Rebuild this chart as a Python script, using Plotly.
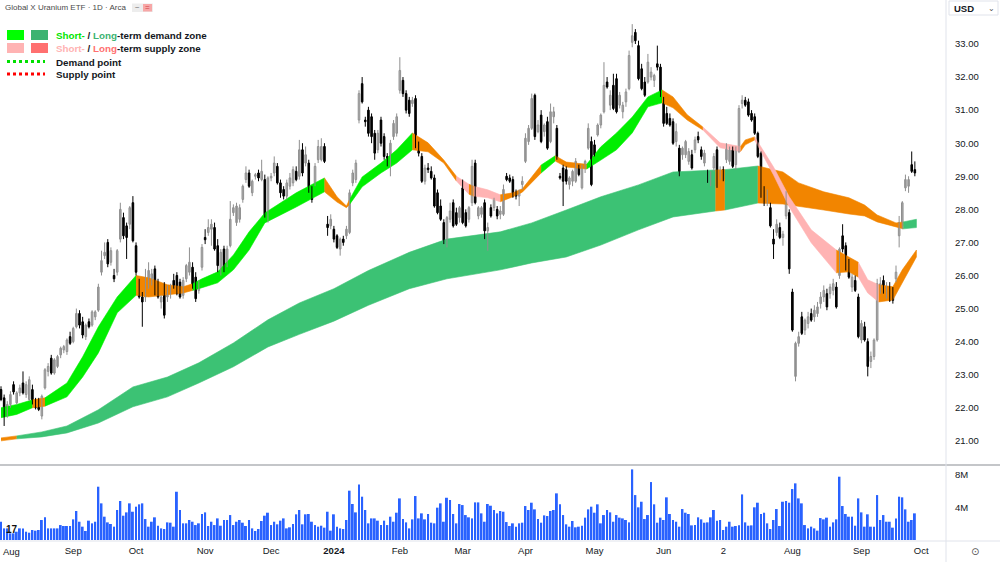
import plotly.graph_objects as go

# ---------------- data ----------------
opens = [22.55,22.3,21.8,22.1,22.7,22.15,22.45,22.75,22.4,22.25,22.55,22.2,22.2,21.75,22.6,23.1,23.5,23.05,23.25,23.6,
23.75,23.7,24.15,24.0,24.45,24.85,24.6,24.15,24.6,24.5,24.75,24.95,26.1,26.6,27.0,26.4,26.0,26.1,27.1,27.75,
27.5,27.55,28.2,26.9,25.7,25.35,25.35,25.7,25.9,26.2,25.75,25.2,25.65,25.35,25.5,25.85,26.0,25.8,25.4,25.9,
26.1,26.25,25.95,25.55,26.25,27.15,27.3,27.4,27.45,26.9,26.2,26.8,26.35,26.9,27.9,27.6,27.7,28.3,28.9,29.1,
28.5,29.0,29.1,28.9,28.9,27.8,28.95,29.1,29.3,28.8,28.6,28.4,28.7,28.8,29.15,29.0,29.8,29.4,29.4,28.6,
28.8,29.5,29.5,29.9,27.55,27.5,27.4,27.2,26.8,27.1,27.2,27.3,28.8,28.9,30.7,31.8,30.7,31.0,30.8,30.3,
29.8,30.7,30.2,29.6,29.5,30.2,30.3,31.6,31.9,31.5,31.3,31.2,31.35,29.95,29.6,28.85,29.25,29.15,28.95,28.5,
28.1,27.6,27.0,27.7,28.2,27.9,27.75,28.65,27.9,27.7,28.2,29.4,27.8,27.85,28.2,27.35,28.05,28.05,28.0,27.85,
27.85,29.0,28.95,28.9,28.45,28.4,28.75,29.45,30.05,30.45,31.45,30.35,30.85,30.35,30.65,30.05,30.8,30.45,29.0,29.25,
29.2,28.75,28.85,28.85,29.25,28.65,29.25,29.85,30.05,29.95,30.25,30.55,30.95,31.85,31.15,31.75,31.95,31.15,30.95,31.25,
31.65,33.05,33.35,32.95,32.25,31.85,31.85,32.0,31.9,32.4,32.3,31.3,30.9,30.75,30.65,30.05,29.85,29.65,29.65,29.45,
29.65,29.8,30.2,29.8,29.4,29.1,28.75,29.25,29.8,29.0,29.2,29.5,29.45,29.8,29.35,29.75,31.2,31.3,31.25,30.9,
30.8,30.3,29.7,28.6,28.3,28.05,27.1,27.3,27.45,27.15,27.8,27.9,25.5,22.95,23.95,24.75,24.35,24.55,24.85,24.75,
24.85,25.15,25.35,25.45,25.45,25.55,25.65,26.0,27.2,26.9,26.4,25.65,25.85,25.35,24.05,24.45,24.0,23.4,23.55,24.05,
25.55,25.85,25.4,25.65,25.55,25.9,27.2,27.5,28.65,28.7,29.35,29.2]
highs = [22.65,22.4,22.2,22.5,22.8,22.5,22.7,23.1,22.8,22.95,22.7,22.3,22.3,22.4,23.2,23.35,23.6,23.5,23.6,23.85,
23.9,24.1,24.3,24.45,25.0,24.95,24.75,24.55,24.7,24.95,24.95,25.75,26.75,27.0,27.1,26.85,26.2,26.8,28.2,27.9,
27.6,28.1,28.4,27.0,25.9,25.5,26.2,26.4,26.2,26.3,25.9,25.4,25.8,25.7,25.75,26.05,26.1,25.9,25.95,26.35,
26.85,26.4,26.1,25.85,26.95,27.4,27.7,27.7,27.6,27.1,26.8,26.9,26.9,28.25,28.15,28.2,28.15,28.75,29.3,29.2,
28.9,29.1,29.2,29.5,29.05,29.0,29.1,29.6,29.4,28.9,28.7,28.9,29.1,29.3,29.3,30.1,30.0,29.9,29.5,28.7,
29.4,30.1,30.15,30.0,27.8,27.85,27.5,27.25,27.15,27.2,27.5,28.6,29.2,29.5,31.6,32.0,30.8,31.1,30.9,30.4,
30.4,30.8,30.3,29.7,30.1,30.7,30.9,32.6,32.0,31.6,31.4,31.4,31.45,30.05,29.7,29.35,29.4,29.3,29.05,28.6,
28.3,27.7,27.8,28.2,28.3,28.05,28.1,28.9,28.0,28.1,29.5,29.5,28.1,28.1,28.3,27.6,28.15,28.35,28.1,28.1,
28.75,29.1,29.05,29.0,28.6,28.6,29.0,30.3,30.55,31.5,31.5,30.7,31.0,30.6,30.8,31.2,31.1,30.55,29.1,29.35,
29.3,29.0,29.2,29.55,29.35,29.35,29.5,30.6,30.2,30.1,30.6,30.9,32.45,32.0,31.6,32.1,32.1,31.55,31.25,31.65,
32.8,33.6,33.45,33.1,32.4,32.0,32.7,32.3,32.1,32.95,32.4,31.4,31.1,30.9,30.75,30.6,29.95,29.9,30.1,29.85,
29.8,30.2,30.35,29.9,29.8,29.2,29.15,29.7,29.9,29.3,29.3,30.0,29.9,29.9,29.9,31.15,31.45,31.4,31.35,31.0,
30.9,30.35,29.75,28.7,28.6,28.2,27.4,27.7,27.6,27.35,28.55,28.0,25.6,24.0,24.3,24.9,24.7,24.9,25.0,25.1,
25.2,25.5,25.7,25.6,25.75,25.9,25.8,26.85,27.55,27.0,26.5,26.05,26.0,25.45,24.65,24.6,24.1,23.7,24.1,25.9,
25.95,26.0,25.8,25.8,25.65,26.3,27.8,28.25,29.05,29.0,29.75,29.45]
lows = [22.2,21.45,21.7,22.0,22.4,22.1,22.35,22.4,22.3,22.2,22.1,21.95,21.9,21.65,22.55,22.95,23.0,23.0,23.2,23.5,
23.65,23.6,23.9,23.95,24.4,24.4,24.1,24.05,24.4,24.45,24.65,24.9,26.0,26.5,26.25,26.3,25.8,26.0,27.0,27.1,
26.5,27.4,27.0,26.0,25.3,24.45,25.2,25.6,25.7,25.4,25.3,25.0,24.7,25.2,25.3,25.6,25.4,25.3,25.3,25.8,
26.0,25.6,25.2,25.45,26.15,26.95,27.2,26.9,26.75,26.1,26.0,26.1,26.25,26.85,27.8,27.5,27.6,28.2,28.8,28.65,
28.4,28.9,28.85,28.85,27.75,27.6,28.85,29.0,28.75,28.35,28.3,28.3,28.6,28.7,28.85,28.9,29.0,29.3,28.5,28.2,
28.7,29.4,29.45,29.4,27.2,27.4,27.0,26.8,26.6,26.9,27.1,27.25,28.7,28.8,30.6,31.2,30.5,30.2,30.0,29.5,
29.7,29.9,29.5,29.3,29.0,30.1,30.2,31.5,31.4,30.9,30.8,31.1,29.85,29.6,28.8,28.75,29.1,28.9,28.05,27.85,
27.65,26.95,26.85,27.6,27.45,27.5,27.6,27.55,27.45,27.6,28.1,28.15,27.7,27.75,27.1,26.75,27.75,27.95,27.7,27.7,
27.8,28.85,28.8,28.35,28.3,28.1,28.6,29.4,29.95,30.4,30.1,30.3,30.0,30.2,29.8,30.0,30.6,29.5,28.9,28.1,
28.75,28.6,28.7,28.8,29.0,28.6,29.1,29.8,28.7,29.6,30.2,30.45,30.9,31.65,31.0,31.0,30.9,31.05,30.75,31.1,
31.6,32.9,33.0,31.9,31.6,31.4,31.8,31.9,31.7,32.2,31.4,30.5,30.55,30.5,29.95,29.9,29.0,29.5,29.55,29.35,
29.2,29.7,30.0,29.5,29.3,28.8,28.7,29.15,28.65,28.9,28.85,29.4,29.35,29.25,29.2,29.7,31.05,31.1,30.8,30.65,
30.25,29.55,28.35,28.1,28.1,27.45,26.5,27.2,27.1,26.9,27.7,26.05,24.3,22.8,23.85,24.2,24.2,24.4,24.6,24.6,
24.75,25.0,25.2,24.95,25.3,25.4,25.0,25.9,26.7,26.15,25.9,25.5,25.5,24.1,23.95,24.0,22.95,23.2,23.45,24.0,
25.45,25.45,25.3,25.2,25.15,25.8,26.85,27.4,28.55,28.5,29.1,29.0]
closes = [22.25,21.8,22.1,22.4,22.48,22.45,22.6,22.45,22.7,22.85,22.15,22.0,21.95,22.35,23.15,23.25,23.05,23.45,23.55,23.8,
23.85,24.05,23.95,24.4,24.85,24.5,24.2,24.5,24.45,24.9,24.9,25.65,26.45,26.7,26.35,26.75,25.9,26.75,28.0,27.2,
27.15,28.05,27.05,26.1,25.35,25.2,25.85,26.15,26.05,25.5,25.35,25.35,24.8,25.65,25.6,25.65,25.45,25.35,25.85,26.3,
26.4,25.65,25.3,25.8,26.85,27.08,27.45,27.55,26.8,26.3,26.7,26.2,26.8,27.7,28.05,28.1,28.05,28.7,29.1,28.7,
28.85,29.05,28.95,29.15,27.8,28.95,29.0,29.4,28.8,28.5,28.4,28.8,28.95,29.2,28.9,29.8,29.1,29.65,28.6,28.3,
29.3,29.9,29.9,29.45,27.45,27.7,27.1,26.85,27.1,27.0,27.4,28.5,29.1,29.4,31.5,31.25,30.65,30.3,30.2,29.7,
30.3,30.0,29.6,29.5,30.0,30.6,30.8,32.2,31.5,31.0,30.9,31.3,29.95,29.7,28.85,29.25,29.2,28.95,28.1,27.9,
27.7,27.0,27.75,27.95,27.5,27.55,28.05,27.6,27.5,28.05,29.3,28.2,28.05,28.05,27.35,27.45,27.8,28.3,27.8,27.95,
28.6,28.9,28.85,28.4,28.4,28.55,28.85,30.15,30.45,31.35,30.2,30.55,30.05,30.55,29.85,30.95,30.95,29.55,28.95,28.85,
28.85,28.95,29.15,29.45,29.05,29.25,29.45,30.45,28.75,29.65,30.55,30.85,31.75,31.7,31.45,31.05,30.95,31.45,31.15,31.55,
32.65,33.25,33.1,31.95,31.65,31.45,32.45,32.15,32.05,32.3,31.45,30.6,30.6,30.55,30.0,30.35,29.05,29.85,30.05,29.75,
29.25,30.1,30.1,29.6,29.7,28.85,29.1,29.6,28.7,29.15,28.9,29.9,29.8,29.3,29.8,31.05,31.3,31.15,30.85,30.7,
30.3,29.6,28.4,28.2,28.4,27.5,26.95,27.55,27.15,27.25,28.3,26.2,24.35,23.95,24.15,24.25,24.65,24.75,24.65,24.95,
25.05,25.35,25.55,25.05,25.65,25.75,25.05,26.8,26.8,26.2,25.95,25.95,25.55,24.15,24.55,24.05,23.25,23.55,24.05,25.75,
25.75,25.55,25.65,25.25,25.25,26.1,27.6,28.2,28.9,28.9,29.15,29.1]
volumes_m = [2.25,1.43,1.43,0.82,0.82,1.02,1.43,1.43,1.02,0.9,1.23,1.15,1.23,2.46,2.79,1.43,1.43,1.43,1.43,1.84,
1.72,1.72,1.72,2.54,3.57,2.25,1.64,1.11,2.38,2.05,2.25,6.56,4.51,2.87,2.17,1.97,1.64,3.69,4.8,2.99,
3.4,4.51,3.48,4.1,4.39,4.51,2.58,1.64,2.25,2.79,1.76,1.43,1.35,2.17,2.13,1.64,5.94,3.69,2.05,2.05,
2.46,2.25,1.84,2.05,3.2,3.4,1.72,2.25,1.84,2.66,1.76,2.46,2.46,3.07,1.84,2.25,2.46,2.13,1.72,2.46,
1.43,1.11,1.35,2.34,2.99,3.36,1.84,2.25,1.93,2.38,2.66,1.43,1.56,1.97,3.16,3.69,1.93,3.16,3.2,2.25,
1.84,1.64,1.76,1.52,3.48,1.15,3.16,1.64,1.43,1.35,2.46,6.07,4.43,3.4,6.84,5.33,3.69,2.05,2.66,2.66,
2.38,1.84,2.38,1.84,2.87,2.25,3.36,5.12,2.58,2.17,1.43,2.54,5.41,2.66,3.28,2.54,3.2,2.13,2.05,3.98,
4.51,2.25,5.2,4.92,3.2,2.05,4.43,4.3,3.07,2.79,2.66,4.63,4.63,3.28,2.25,4.43,4.22,3.69,3.28,3.57,
3.48,2.21,1.72,2.05,1.64,2.05,2.13,4.18,3.69,4.59,3.77,2.58,2.13,3.03,2.95,3.57,3.69,5.74,4.39,3.07,
1.93,1.64,2.34,1.56,1.64,1.76,2.75,3.77,4.1,3.36,4.39,2.05,3.07,3.69,3.4,2.25,3.07,2.75,2.66,2.46,
2.17,8.69,5.53,4.02,4.71,2.58,3.07,7.13,4.39,2.13,2.75,2.46,5.25,3.2,2.46,2.25,1.64,3.81,3.36,3.2,
1.8,1.84,2.79,2.54,2.13,2.17,2.79,3.69,2.38,2.46,1.23,1.64,2.25,1.64,1.72,1.8,5.61,2.17,1.76,1.8,
4.02,4.59,3.2,3.36,2.05,1.35,2.46,3.81,1.72,4.71,4.8,4.59,6.27,6.97,5.12,4.51,1.84,1.43,1.64,1.43,
1.15,2.7,2.54,2.75,1.64,2.17,2.54,7.79,4.18,3.2,2.87,2.87,1.76,5.12,3.4,1.64,3.16,1.64,1.64,5.53,
2.46,3.07,2.25,2.25,1.52,2.66,5.33,5.25,3.77,2.25,2.46,3.28]

tick_idx = [0, 23, 43, 65, 86, 106, 127, 147, 167, 189, 211, 230, 252, 274, 293]
tick_text = ["Aug", "Sep", "Oct", "Nov", "Dec", "<b>2024</b>", "Feb", "Mar", "Apr", "May", "Jun", "2", "Aug", "Sep", "Oct"]
price_ticks = [21, 22, 23, 24, 25, 26, 27, 28, 29, 30, 31, 32, 33]

short_idx = [0,5,10,14,21,26,31,37,43,47,53,58,61,64,69,74,79,84,94,103,107,110,111,115,121,126,131,136,141,145,
149,150.5,155,159,163,166,172,176.5,180,186.5,191,196,201,206,210.5,214,218.5,223.5,229,235.5,237,240,246,251,258,266,270,273,276,279.5,
284,287,291.5]
short_top = [22.0,22.1,22.24,22.3,22.75,23.54,24.45,25.35,26.0,25.93,25.72,25.66,25.75,25.9,26.11,26.62,27.32,27.89,28.5,28.95,
28.38,28.1,28.3,28.98,29.4,29.8,30.31,30.01,29.49,29.0,28.76,28.7,28.59,28.44,28.5,28.62,29.34,29.62,29.43,29.36,
29.89,30.31,30.79,31.4,31.61,31.4,30.86,30.49,30.01,29.9,30.1,30.19,29.28,28.38,27.38,26.77,26.56,26.4,25.87,25.72,
25.66,26.17,26.77]
short_bot = [21.7,21.8,22.0,22.05,22.33,22.93,23.66,24.87,25.4,25.35,25.41,25.47,25.55,25.63,25.78,26.17,26.77,27.59,28.07,28.53,
28.22,28.05,28.15,28.68,29.1,29.4,29.8,29.74,29.4,28.86,28.46,28.4,28.35,28.23,28.38,28.52,29.1,29.46,29.28,29.22,
29.49,29.8,30.31,31.1,31.22,31.07,30.7,30.4,29.86,29.75,29.95,30.1,29.04,28.07,26.99,26.08,26.11,25.95,25.47,25.2,
25.26,25.78,26.56]
short_segments = [(0,10,"g"),(10,14,"o"),(14,43,"g"),(43,61,"o"),(61,103,"g"),(103,111,"o"),(111,131,"g"),(131,145,"o"),
(145,149,"p"),(149,150.5,"o"),(150.5,159,"p"),(159,172,"o"),(172,176.5,"g"),(176.5,186.5,"o"),(186.5,210.5,"g"),
(210.5,223.5,"o"),(223.5,235.5,"p"),(235.5,240,"o"),(240,266,"p"),(266,273,"o"),(273,279.5,"p"),(279.5,291.5,"o")]

long_idx = [0,5,13,21,31,42,53,63,74,85,95,106,117,130,142,159,169,180,191,203,214,227.5,230.5,241,249,254,262,270,275,279,
285,287.3,291.5]
long_top = [21.09,21.15,21.27,21.45,21.94,22.63,22.93,23.36,23.96,24.66,25.17,25.6,26.15,26.7,27.1,27.32,27.59,27.98,28.38,28.74,
29.13,29.19,29.2,29.31,29.13,28.8,28.53,28.35,28.13,27.83,27.59,27.62,27.7]
long_bot = [21.0,21.06,21.12,21.24,21.54,22.03,22.33,22.75,23.24,23.84,24.22,24.62,25.1,25.6,25.9,26.17,26.38,26.56,26.92,27.38,
27.77,27.95,27.98,28.19,28.16,28.1,27.98,27.86,27.8,27.62,27.47,27.41,27.45]
long_segments = [(0,5,"o"),(5,227.5,"d"),(227.5,230.5,"o"),(230.5,241,"d"),(241,287.3,"o"),(287.3,291.5,"d")]

# ---------------- styles ----------------
COL = {"g": "#00EE00", "d": "#3CC274", "p": "#FFB3B3", "o": "#F28500"}
UP_EDGE = "#8F8F8F"
PW, PH = 945.0, 540.0


def X(px):
    return px / PW


def Y(py):
    return 1 - py / PH


fig = go.Figure()


def add_band(bidx, top, bot, segments):
    for a, b, key in segments:
        sel = [k for k, v in enumerate(bidx) if a <= v <= b]
        xs = [bidx[k] for k in sel]
        ys = [top[k] for k in sel] + [bot[k] for k in sel][::-1]
        fig.add_trace(go.Scatter(x=xs + xs[::-1], y=ys, mode="lines", fill="toself",
                                 fillcolor=COL[key], line=dict(width=0.6, color=COL[key]),
                                 hoverinfo="skip", showlegend=False, xaxis="x", yaxis="y"))


add_band(long_idx, long_top, long_bot, long_segments)
add_band(short_idx, short_top, short_bot, short_segments)

n = len(closes)
idx = list(range(n))
up = [k for k in idx if closes[k] >= opens[k]]
dn = [k for k in idx if closes[k] < opens[k]]


def wick_xy(ks):
    xs, ys = [], []
    for k in ks:
        xs += [k, k, None]
        ys += [min(lows[k], opens[k], closes[k]), max(highs[k], opens[k], closes[k]), None]
    return xs, ys


for ks, col in [(up, UP_EDGE), (dn, "#000000")]:
    wx, wy = wick_xy(ks)
    fig.add_trace(go.Scatter(x=wx, y=wy, mode="lines", line=dict(color=col, width=1),
                             hoverinfo="skip", showlegend=False, xaxis="x", yaxis="y"))

for ks, fill, edge in [(up, "#FFFFFF", UP_EDGE), (dn, "#000000", "#000000")]:
    base = [min(opens[k], closes[k]) for k in ks]
    height = [max(abs(closes[k] - opens[k]), 0.03) for k in ks]
    fig.add_trace(go.Bar(x=ks, y=height, base=base, width=0.5,
                         marker=dict(color=fill, line=dict(color=edge, width=1)),
                         hoverinfo="skip", showlegend=False, xaxis="x", yaxis="y"))

fig.add_trace(go.Bar(x=idx, y=volumes_m, marker=dict(color="#2962FF", line=dict(width=0)),
                     width=0.62, showlegend=False, hoverinfo="skip", xaxis="x", yaxis="y2"))

vol_dom = 75 / PH
FONT = "Liberation Sans, Arial, sans-serif"

fig.update_layout(
    width=1000, height=562,
    margin=dict(l=0, r=55, t=0, b=22),
    paper_bgcolor="white", plot_bgcolor="white",
    showlegend=False, barmode="overlay",
    font=dict(family=FONT, color="#131722"),
    xaxis=dict(range=[-0.32, 300.6], tickvals=tick_idx, ticktext=tick_text, showgrid=False,
               zeroline=False, ticks="", tickfont=dict(size=9.5, color="#131722"),
               ticklabelstandoff=3, anchor="y2", showline=False, fixedrange=True),
    yaxis=dict(domain=[vol_dom, 1], side="right", range=[20.27, 34.33], tickvals=price_ticks,
               ticktext=["%.2f" % v for v in price_ticks], showgrid=False, zeroline=False,
               ticks="", tickfont=dict(size=9.5, color="#131722"), ticklabelstandoff=9,
               showline=False, anchor="x"),
    yaxis2=dict(domain=[0, vol_dom], side="right", range=[0, 9.23], tickvals=[4, 8],
                ticktext=["4M", "8M"], showgrid=False, zeroline=False, ticks="",
                tickfont=dict(size=9.5, color="#131722"), ticklabelstandoff=9,
                showline=False, anchor="x"),
)

shapes = []
shapes.append(dict(type="line", xref="paper", yref="paper", x0=0, x1=X(1000), y0=Y(465), y1=Y(465),
                   line=dict(color="#8A8D94", width=1.2)))
shapes.append(dict(type="line", xref="paper", yref="paper", x0=0, x1=X(1000), y0=Y(541), y1=Y(541),
                   line=dict(color="#E0E3EB", width=1)))
shapes.append(dict(type="line", xref="paper", yref="paper", x0=X(946), x1=X(946), y0=Y(0), y1=Y(562),
                   line=dict(color="#E0E3EB", width=1)))
shapes.append(dict(type="rect", xref="paper", yref="paper", x0=X(949), x1=X(998), y0=Y(1), y1=Y(15),
                   line=dict(color="#E0E3EB", width=1), fillcolor="white"))
shapes.append(dict(type="rect", xref="paper", yref="paper", x0=X(132), x1=X(153), y0=Y(3.5), y1=Y(12),
                   line=dict(width=0), fillcolor="#EDEDED"))
shapes.append(dict(type="rect", xref="paper", yref="paper", x0=X(143), x1=X(152), y0=Y(4), y1=Y(11.5),
                   line=dict(width=0), fillcolor="#F7A7A7"))
for (x0, x1, y0, y1, c) in [(7, 24, 30, 40, "#00FF00"), (31, 48, 30, 40, "#3CB371"),
                            (7, 24, 43, 53, "#FFB3B3"), (31, 48, 43, 53, "#FF7070")]:
    shapes.append(dict(type="rect", xref="paper", yref="paper", x0=X(x0), x1=X(x1), y0=Y(y0), y1=Y(y1),
                       line=dict(width=0), fillcolor=c))
shapes.append(dict(type="line", xref="paper", yref="paper", x0=X(7), x1=X(45), y0=Y(61.5), y1=Y(61.5),
                   line=dict(color="#00E000", width=3, dash="dot")))
shapes.append(dict(type="line", xref="paper", yref="paper", x0=X(7), x1=X(45), y0=Y(74), y1=Y(74),
                   line=dict(color="#FF0000", width=3, dash="dot")))
fig.update_layout(shapes=shapes)

ann = []


def text(px, py, s, size, color="#131722", anchor="left", fam=FONT):
    ann.append(dict(xref="paper", yref="paper", x=X(px), y=Y(py), text=s, showarrow=False,
                    xanchor=anchor, yanchor="middle", font=dict(size=size, color=color, family=fam)))


text(3, 7.5, "Global X Uranium ETF · 1D · Arca", 8, "#4A4A4A")
text(137.5, 7.5, "−", 8, "#777777", "center")
text(147.5, 7.5, "=", 8, "#D04040", "center")
text(54, 35.5, '<b><span style="color:#00E600">Short-</span> / <span style="color:#3CB371">Long</span>-term demand zone</b>', 9.8)
text(54, 48.5, '<b><span style="color:#FFB3B3">Short-</span> / <span style="color:#FF7070">Long</span>-term supply zone</b>', 9.8)
text(54, 62, "<b>Demand point</b>", 9.8)
text(54, 74.5, "<b>Supply point</b>", 9.8)
text(952, 8, "<b>USD</b>", 9.5)
text(992, 8, "⌄", 8, "#555555", "center", "DejaVu Sans")
text(975, 551, "⊙", 10, "#555555", "center", "DejaVu Sans")
text(4, 529, "<b>17</b>", 10, "#111111")
text(1, 551, "Aug", 9.5, "#131722", "left")
fig.update_layout(annotations=ann)

fig.write_html("out.html")
